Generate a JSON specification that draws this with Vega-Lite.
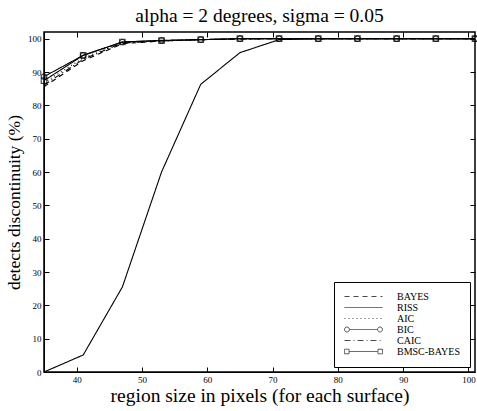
{
  "$schema": "https://vega.github.io/schema/vega-lite/v6.json",
  "width": 431,
  "height": 340,
  "autosize": {"type": "none"},
  "padding": {"left": 44, "top": 32, "right": 2, "bottom": 39},
  "background": "white",
  "title": {"text": "alpha = 2 degrees, sigma = 0.05", "font": "Liberation Serif", "fontSize": 19.5, "fontWeight": "normal", "color": "black", "offset": 5},
  "config": {
    "title": {"font": "Liberation Serif", "fontWeight": "normal"},
    "view": {"stroke": "black", "strokeWidth": 1.5},
    "axis": {"grid": false, "domainColor": "black", "tickColor": "black", "labelColor": "black", "titleColor": "black", "labelFont": "Liberation Serif", "titleFont": "Liberation Serif", "labelFontSize": 9, "titleFontSize": 18, "titleFontWeight": "normal", "tickSize": -5, "labelPadding": 8}
  },
  "data": {"values": [
    {"series": "BAYES", "size": 35, "pct": 85.6},
    {"series": "BAYES", "size": 41, "pct": 93.4},
    {"series": "BAYES", "size": 47, "pct": 98.5},
    {"series": "BAYES", "size": 53, "pct": 99.3},
    {"series": "BAYES", "size": 59, "pct": 99.7},
    {"series": "BAYES", "size": 65, "pct": 99.9},
    {"series": "BAYES", "size": 71, "pct": 100},
    {"series": "BAYES", "size": 77, "pct": 100},
    {"series": "BAYES", "size": 83, "pct": 100},
    {"series": "BAYES", "size": 89, "pct": 100},
    {"series": "BAYES", "size": 95, "pct": 100},
    {"series": "BAYES", "size": 101, "pct": 100},
    {"series": "RISS", "size": 35, "pct": 0},
    {"series": "RISS", "size": 41, "pct": 5.1},
    {"series": "RISS", "size": 47, "pct": 25.5},
    {"series": "RISS", "size": 53, "pct": 60},
    {"series": "RISS", "size": 59, "pct": 86.3},
    {"series": "RISS", "size": 65, "pct": 95.8},
    {"series": "RISS", "size": 71, "pct": 99.7},
    {"series": "RISS", "size": 77, "pct": 100},
    {"series": "RISS", "size": 83, "pct": 100},
    {"series": "RISS", "size": 89, "pct": 100},
    {"series": "RISS", "size": 95, "pct": 100},
    {"series": "RISS", "size": 101, "pct": 100},
    {"series": "AIC", "size": 35, "pct": 86.8},
    {"series": "AIC", "size": 41, "pct": 94.2},
    {"series": "AIC", "size": 47, "pct": 98.8},
    {"series": "AIC", "size": 53, "pct": 99.4},
    {"series": "AIC", "size": 59, "pct": 99.7},
    {"series": "AIC", "size": 65, "pct": 100},
    {"series": "AIC", "size": 71, "pct": 100},
    {"series": "AIC", "size": 77, "pct": 100},
    {"series": "AIC", "size": 83, "pct": 100},
    {"series": "AIC", "size": 89, "pct": 100},
    {"series": "AIC", "size": 95, "pct": 100},
    {"series": "AIC", "size": 101, "pct": 100},
    {"series": "BIC", "size": 35, "pct": 88.6},
    {"series": "BIC", "size": 41, "pct": 95},
    {"series": "BIC", "size": 47, "pct": 99},
    {"series": "BIC", "size": 53, "pct": 99.5},
    {"series": "BIC", "size": 59, "pct": 99.7},
    {"series": "BIC", "size": 65, "pct": 100},
    {"series": "BIC", "size": 71, "pct": 100},
    {"series": "BIC", "size": 77, "pct": 100},
    {"series": "BIC", "size": 83, "pct": 100},
    {"series": "BIC", "size": 89, "pct": 100},
    {"series": "BIC", "size": 95, "pct": 100},
    {"series": "BIC", "size": 101, "pct": 100},
    {"series": "CAIC", "size": 35, "pct": 86.1},
    {"series": "CAIC", "size": 41, "pct": 93.8},
    {"series": "CAIC", "size": 47, "pct": 98.7},
    {"series": "CAIC", "size": 53, "pct": 99.3},
    {"series": "CAIC", "size": 59, "pct": 99.7},
    {"series": "CAIC", "size": 65, "pct": 99.9},
    {"series": "CAIC", "size": 71, "pct": 100},
    {"series": "CAIC", "size": 77, "pct": 100},
    {"series": "CAIC", "size": 83, "pct": 100},
    {"series": "CAIC", "size": 89, "pct": 100},
    {"series": "CAIC", "size": 95, "pct": 100},
    {"series": "CAIC", "size": 101, "pct": 100},
    {"series": "BMSC-BAYES", "size": 35, "pct": 87.4},
    {"series": "BMSC-BAYES", "size": 41, "pct": 95},
    {"series": "BMSC-BAYES", "size": 47, "pct": 99},
    {"series": "BMSC-BAYES", "size": 53, "pct": 99.4},
    {"series": "BMSC-BAYES", "size": 59, "pct": 99.7},
    {"series": "BMSC-BAYES", "size": 65, "pct": 100},
    {"series": "BMSC-BAYES", "size": 71, "pct": 100},
    {"series": "BMSC-BAYES", "size": 77, "pct": 100},
    {"series": "BMSC-BAYES", "size": 83, "pct": 100},
    {"series": "BMSC-BAYES", "size": 89, "pct": 100},
    {"series": "BMSC-BAYES", "size": 95, "pct": 100},
    {"series": "BMSC-BAYES", "size": 101, "pct": 100}
  ]},
  "resolve": {"axis": {"x": "independent", "y": "independent"}},
  "layer": [
    {
      "mark": {"type": "line", "color": "black", "strokeWidth": 1.1, "clip": true},
      "encoding": {
        "x": {"field": "size", "type": "quantitative", "scale": {"domain": [35, 101], "nice": false, "zero": false},
              "axis": {"orient": "bottom", "values": [40, 50, 60, 70, 80, 90, 100], "title": "region size in pixels (for each surface)", "titleFontSize": 19.5, "titlePadding": 2}},
        "y": {"field": "pct", "type": "quantitative", "scale": {"domain": [0, 102], "nice": false},
              "axis": {"orient": "left", "values": [0, 10, 20, 30, 40, 50, 60, 70, 80, 90, 100], "title": "detects discontinuity (%)", "titleFontSize": 17.5, "titlePadding": 4}},
        "strokeDash": {"field": "series", "type": "nominal",
          "scale": {"domain": ["BAYES", "RISS", "AIC", "BIC", "CAIC", "BMSC-BAYES"], "range": [[5, 4], [1, 0], [1, 3], [1, 0], [6, 3, 1, 3], [1, 0]]},
          "legend": {"title": null, "orient": "bottom-right", "offset": 5, "padding": 10, "strokeColor": "black", "fillColor": "white", "labelFont": "Liberation Serif", "labelFontSize": 10, "labelColor": "black", "symbolSize": 1444, "clipHeight": 9, "rowPadding": 0, "labelOffset": 14, "symbolStrokeColor": "black", "symbolStrokeWidth": 1, "symbolFillColor": "transparent"}}
      }
    },
    {
      "transform": [{"filter": "datum.series === 'BIC'"}],
      "mark": {"type": "point", "shape": "circle", "filled": false, "color": "black", "size": 30, "strokeWidth": 1.2},
      "encoding": {
        "x": {"field": "size", "type": "quantitative", "axis": {"orient": "top", "values": [40, 50, 60, 70, 80, 90, 100], "labels": false, "title": null, "domain": false}},
        "y": {"field": "pct", "type": "quantitative", "axis": {"orient": "right", "values": [0, 10, 20, 30, 40, 50, 60, 70, 80, 90, 100], "labels": false, "title": null, "domain": false}}
      }
    },
    {
      "transform": [{"filter": "datum.series === 'BMSC-BAYES'"}],
      "mark": {"type": "point", "shape": "square", "filled": false, "color": "black", "size": 30, "strokeWidth": 1.2},
      "encoding": {
        "x": {"field": "size", "type": "quantitative", "axis": null},
        "y": {"field": "pct", "type": "quantitative", "axis": null}
      }
    },
    {
      "transform": [{"filter": "false"}],
      "mark": {"type": "point", "filled": false, "color": "black"},
      "encoding": {
        "shape": {"field": "series", "type": "nominal",
          "scale": {"domain": ["BAYES", "RISS", "AIC", "BIC", "CAIC", "BMSC-BAYES"],
                    "range": ["M-1,0L1,0", "M-1,0L1,0", "M-1,0L1,0",
                              "M-0.74,0L0.74,0M-1,0A0.13,0.13 0 1,1 -0.74,0A0.13,0.13 0 1,1 -1,0M0.74,0A0.13,0.13 0 1,1 1,0A0.13,0.13 0 1,1 0.74,0",
                              "M-1,0L1,0",
                              "M-0.75,0L0.75,0M-1,-0.12L-0.76,-0.12L-0.76,0.12L-1,0.12ZM0.76,-0.12L1,-0.12L1,0.12L0.76,0.12Z"]},
          "legend": {"title": null, "orient": "bottom-right", "offset": 5, "padding": 10, "strokeColor": "black", "fillColor": "white", "labelFont": "Liberation Serif", "labelFontSize": 10, "labelColor": "black", "symbolSize": 1444, "clipHeight": 9, "rowPadding": 0, "labelOffset": 14, "symbolStrokeColor": "black", "symbolStrokeWidth": 1, "symbolFillColor": "transparent"}}
      }
    }
  ]
}
